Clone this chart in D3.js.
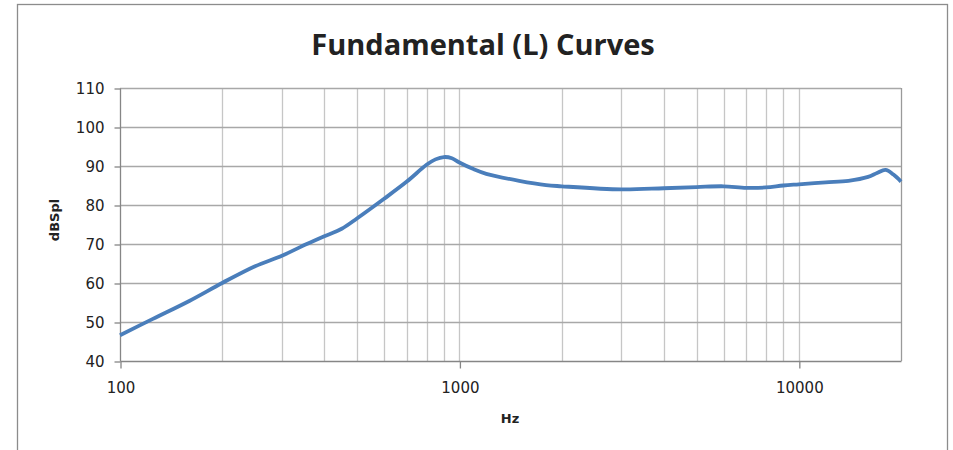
<!DOCTYPE html>
<html lang="en">
	<head>
		<meta charset="utf-8">
		<title>Fundamental (L) Curves</title>
		<script type="text/javascript" src="https://d3js.org/d3.v7.min.js"></script>
		<style type="text/css">
			body { margin: 0; background: #fff; }
			text { font-family: "DejaVu Sans", Verdana, sans-serif; fill: #222; }
			.title { font-family: "Open Sans", "Liberation Sans", sans-serif; font-weight: bold; }
			.axisTitle { font-weight: bold; }
		</style>
	</head>
	<body>
		<script type="text/javascript">

			//Data
			var freqs = [100, 125, 160, 200, 250, 300, 355, 400, 450, 500, 600, 700, 800, 850, 900, 950,
						 1000, 1100, 1200, 1500, 1800, 2000, 3000, 4000, 5000, 6000, 7000, 8000, 9000,
						 10000, 12000, 14000, 16000, 17000, 18000, 19000, 20000];
			var levels = [46.6, 50.8, 55.4, 60, 64.3, 67, 70, 72, 73.9, 76.6, 81.6, 86, 90.3, 91.7, 92.3, 92.0,
						  90.9, 89.2, 88, 86.2, 85.1, 84.8, 84.0, 84.3, 84.6, 84.8, 84.4, 84.5, 85,
						  85.3, 85.8, 86.2, 87.2, 88.2, 89.0, 87.8, 86];
			var yTicks = [40, 50, 60, 70, 80, 90, 100, 110];
			var xTickLabels = [100, 1000, 10000];
			var xGrid = [200, 300, 400, 500, 600, 700, 800, 900, 1000,
						 2000, 3000, 4000, 5000, 6000, 7000, 8000, 9000, 10000];

			var w = 953;
			var h = 450;
			var plotLeft = 120, plotRight = 901, plotTop = 88, plotBottom = 361;

			var svg = d3.select("body")
						.append("svg")
						.attr("width", w)
						.attr("height", h);

			//outer chart border
			svg.append("rect")
				.attr("x", 17.5).attr("y", 4.5)
				.attr("width", 930).attr("height", 460)
				.attr("fill", "none")
				.attr("stroke", "#8c8c8c")
				.attr("stroke-width", 1.3);

			var xScale = d3.scaleLog()
							.domain([100, 20000])
							.range([plotLeft, plotRight]);
			var yScale = d3.scaleLinear()
							.domain([40, 110])
							.range([plotBottom, plotTop]);

			//vertical gridlines
			svg.append("g").selectAll("line")
				.data(xGrid)
				.enter()
				.append("line")
				.attr("x1", function(d) { return Math.round(xScale(d)) + 0.5; })
				.attr("x2", function(d) { return Math.round(xScale(d)) + 0.5; })
				.attr("y1", plotTop)
				.attr("y2", plotBottom)
				.attr("stroke", "#c6c6c6")
				.attr("stroke-width", 1.3);

			//horizontal gridlines
			svg.append("g").selectAll("line")
				.data(yTicks.slice(1))
				.enter()
				.append("line")
				.attr("x1", plotLeft)
				.attr("x2", plotRight)
				.attr("y1", function(d) { return Math.round(yScale(d)) + 0.5; })
				.attr("y2", function(d) { return Math.round(yScale(d)) + 0.5; })
				.attr("stroke", "#a8a8a8")
				.attr("stroke-width", 1.3);

			//right edge of plot
			svg.append("line")
				.attr("x1", plotRight + 0.5).attr("x2", plotRight + 0.5)
				.attr("y1", plotTop).attr("y2", plotBottom)
				.attr("stroke", "#9a9a9a")
				.attr("stroke-width", 1.3);

			//Y axis
			var yAxis = d3.axisLeft(yScale)
							.tickValues(yTicks)
							.tickSize(6)
							.tickPadding(10);
			var gy = svg.append("g")
				.attr("transform", "translate(" + (plotLeft + 0.5) + ",0.5)")
				.call(yAxis);

			//X axis
			var xAxis = d3.axisBottom(xScale)
							.tickValues(xTickLabels)
							.tickFormat(d3.format("d"))
							.tickSize(7)
							.tickPadding(14);
			var gx = svg.append("g")
				.attr("transform", "translate(0.5," + (plotBottom + 0.5) + ")")
				.call(xAxis);

			[gx, gy].forEach(function(g) {
				g.select(".domain").attr("stroke", "#868686").attr("stroke-width", 1.3);
				g.selectAll(".tick line").attr("stroke", "#868686").attr("stroke-width", 1.3);
				g.selectAll(".tick text")
					.style("font-family", "'DejaVu Sans', Verdana, sans-serif")
					.style("font-size", "15px")
					.attr("fill", "#222");
			});
			gx.select(".domain").attr("d", "M" + plotLeft + ",0H" + plotRight);
			gy.select(".domain").attr("d", "M0," + plotBottom + "V" + plotTop);

			//curve
			var line = d3.line()
						.x(function(d, i) { return xScale(freqs[i]); })
						.y(function(d) { return yScale(d); })
						.curve(d3.curveCatmullRom.alpha(0.5));

			svg.append("path")
				.datum(levels)
				.attr("d", line)
				.attr("fill", "none")
				.attr("stroke", "#4a7ebb")
				.attr("stroke-width", 3.8)
				.attr("stroke-linejoin", "round");

			//titles
			svg.append("text")
				.attr("class", "title")
				.attr("x", 483)
				.attr("y", 55)
				.attr("text-anchor", "middle")
				.style("font-size", "29px")
				.text("Fundamental (L) Curves");

			svg.append("text")
				.attr("class", "axisTitle")
				.attr("x", 510)
				.attr("y", 423)
				.attr("text-anchor", "middle")
				.style("font-size", "13px")
				.text("Hz");

			svg.append("text")
				.attr("class", "axisTitle")
				.attr("transform", "translate(59,220) rotate(-90)")
				.attr("text-anchor", "middle")
				.style("font-size", "13px")
				.text("dBSpl");

		</script>
	</body>
</html>
